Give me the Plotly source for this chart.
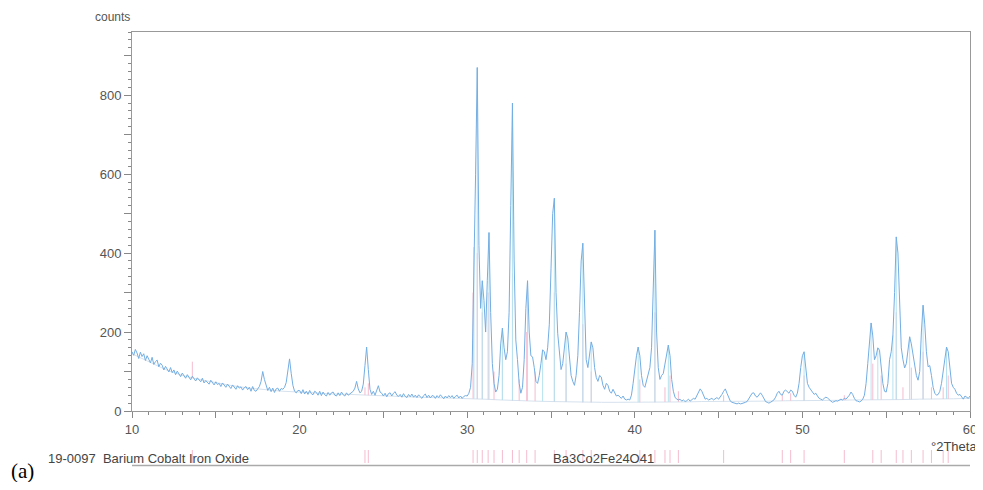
import numpy as np
import plotly.graph_objects as go

# ---------------- data ----------------
theta_start = 10.0
theta_step = 0.1
counts = [
    150,141,156,147,133,149,138,145,128,140,
    131,122,136,118,125,129,112,121,116,104,
    113,106,99,110,97,104,92,101,95,87,
    96,90,83,92,85,79,88,82,76,84,
    80,74,83,71,77,73,68,78,70,66,
    74,67,70,62,71,64,60,68,63,57,
    66,60,55,64,58,61,53,59,62,54,
    60,50,62,52,50,56,62,75,100,80,
    64,52,60,49,58,47,56,58,50,57,
    55,60,72,100,132,95,65,50,46,52,
    52,44,54,43,50,42,52,44,41,50,
    47,40,50,39,48,41,38,47,40,46,
    48,40,38,46,39,48,41,38,46,40,
    44,47,50,58,75,56,46,50,68,115,
    162,105,55,42,50,40,54,64,48,45,
    38,45,36,44,46,38,45,49,40,37,
    42,35,44,37,34,42,36,43,35,40,
    34,41,36,32,39,43,34,40,33,39,
    38,32,39,34,41,35,31,38,33,39,
    34,39,32,37,40,33,38,32,37,39,
    38,45,60,120,415,600,870,420,260,330,
    280,200,330,452,250,120,70,48,55,90,
    170,210,160,130,150,250,520,780,380,180,
    130,70,45,60,130,260,330,200,140,137,
    110,75,70,90,120,155,150,130,160,220,
    360,500,539,300,197,150,105,120,170,200,
    185,130,90,75,65,90,140,250,380,425,
    250,130,110,150,175,160,110,85,75,90,
    86,65,55,70,65,50,45,55,45,38,
    40,35,32,38,30,28,30,28,40,70,
    110,140,162,140,90,65,60,75,90,110,
    160,350,458,200,110,80,90,95,120,150,
    167,140,80,50,35,30,28,30,25,28,
    24,26,30,25,28,32,30,38,48,56,
    50,38,30,32,28,30,32,28,30,34,
    30,35,42,50,56,45,35,25,22,20,
    19,18,20,18,19,20,22,24,30,38,
    45,46,38,35,42,46,40,30,24,22,
    20,22,24,28,35,45,50,42,40,50,
    53,48,45,53,50,40,35,45,70,110,
    140,150,110,70,60,55,48,42,45,38,
    32,30,28,32,35,33,28,25,22,24,
    26,25,28,30,28,32,30,35,40,48,
    42,32,26,25,23,25,30,40,70,120,
    180,223,190,130,140,160,154,110,70,50,
    48,70,130,150,192,300,441,400,250,160,
    130,109,120,160,188,170,140,110,90,78,
    100,200,268,220,150,112,115,90,60,45,
    40,42,50,70,100,140,162,150,100,70,
    60,55,45,40,42,35,30,38,35,32,
    38,
]
two_theta = [round(theta_start + i * theta_step, 1) for i in range(len(counts))]

# background line (counts at whole degrees 10..60)
bg_theta = list(range(10, 61))
bg_counts = [145,125,105,90,80,72,64,58,54,50,48,45,43,42,40,38,36,35,34,33,
             32,30,28,26,25,24,23,22,22,22,22,22,23,23,24,24,24,25,25,26,
             26,27,27,28,28,29,29,30,30,31,32]

# peak list (light blue sticks)
peak_theta = [30.4, 30.6, 30.9, 31.3, 32.1, 32.7, 33.6, 34.5, 35.2, 35.9, 36.9, 37.4,
              40.2, 41.2, 42.0, 50.1, 54.1, 54.5, 55.4, 55.6, 56.4, 57.2, 58.6]
peak_counts = [415, 870, 330, 452, 210, 780, 330, 155, 539, 200, 425, 175,
               162, 458, 167, 150, 223, 160, 192, 441, 188, 268, 162]

# reference pattern 19-0097 Ba3Co2Fe24O41 (pink sticks)
ref_theta = [13.6, 23.9, 24.1, 30.35, 30.6, 30.9, 31.25, 31.6, 32.1, 32.7, 33.1, 33.55,
             34.05, 35.2, 35.9, 36.9, 37.4, 40.3, 41.2, 41.8, 42.1, 42.6, 45.3, 48.8,
             49.3, 50.1, 52.5, 54.2, 54.7, 55.6, 56.0, 56.5, 57.2, 57.7, 58.4, 58.7]
ref_counts = [125, 60, 70, 300, 400, 250, 300, 100, 150, 350, 80, 200,
              100, 300, 120, 220, 100, 80, 250, 60, 90, 50, 40, 40,
              45, 90, 40, 120, 90, 250, 60, 110, 150, 60, 60, 90]

y_tick_vals = list(range(0, 1000, 100))
y_tick_text = ["0", "", "200", "", "400", "", "600", "", "800", ""]
x_tick_vals = list(range(10, 65, 5))
x_tick_text = ["10", "", "20", "", "30", "", "40", "", "50", "", "60"]

# ---------------- figure ----------------
# the page body has an 8px margin, so the figure is drawn 8px in from the corner
OFF = 8
W, H = 975, 474
L, T = 132 - OFF, 32 - OFF
R = W - (970 - OFF)
B = H - (411 - OFF)
plot_w = W - L - R
plot_h = H - T - B


def py(pixel_y):
    return ((H - B) - (pixel_y - OFF)) / plot_h


def pxf(pixel_x):
    return ((pixel_x - OFF) - L) / plot_w


bg_at = lambda t: float(np.interp(t, bg_theta, bg_counts))

fig = go.Figure()

# background
fig.add_trace(go.Scatter(x=bg_theta, y=bg_counts, mode="lines",
                         line=dict(color="#d6e2ee", width=1), hoverinfo="skip"))

# pink reference sticks in plot
sx, sy = [], []
for t, c in zip(ref_theta, ref_counts):
    sx += [t, t, None]
    sy += [bg_at(t), c, None]
fig.add_trace(go.Scatter(x=sx, y=sy, mode="lines",
                         line=dict(color="#f5bccf", width=1), hoverinfo="skip"))

# light-blue peak sticks
px_, py_ = [], []
for t, c in zip(peak_theta, peak_counts):
    px_ += [t, t, None]
    py_ += [bg_at(t), c, None]
fig.add_trace(go.Scatter(x=px_, y=py_, mode="lines",
                         line=dict(color="#b5e3f0", width=1), hoverinfo="skip"))

# measured curve
fig.add_trace(go.Scatter(x=two_theta, y=counts, mode="lines",
                         line=dict(color="#74aee3", width=1), hoverinfo="skip"))

axis_font = dict(family="Liberation Sans, Arial, sans-serif", size=13, color="#555555")

fig.update_xaxes(range=[10, 60], tickvals=x_tick_vals, ticktext=x_tick_text,
                 ticks="outside", ticklen=6, tickcolor="#888888", tickwidth=1,
                 minor=dict(dtick=1, ticks="outside", ticklen=3, tickcolor="#888888"),
                 showline=True, linecolor="#999999", linewidth=1, mirror=True,
                 showgrid=False, zeroline=False, tickfont=axis_font, automargin=False)
fig.update_yaxes(range=[0, 960], tickvals=y_tick_vals, ticktext=y_tick_text,
                 ticks="outside", ticklen=7, tickcolor="#888888", tickwidth=1,
                 minor=dict(dtick=20, ticks="outside", ticklen=3, tickcolor="#888888"),
                 showline=True, linecolor="#999999", linewidth=1, mirror=True,
                 showgrid=False, zeroline=False, tickfont=axis_font, automargin=False)

shapes = []
# reference bar ticks below the axis
for t in ref_theta:
    shapes.append(dict(type="line", xref="x", yref="paper", x0=t, x1=t,
                       y0=py(450), y1=py(463), line=dict(color="#f5bccf", width=1)))
shapes.append(dict(type="line", xref="x", yref="paper", x0=10, x1=60,
                   y0=py(465.5), y1=py(465.5), line=dict(color="#aaaaaa", width=1.5)))

label_font = dict(family="Liberation Sans, Arial, sans-serif", size=13, color="#444444")
annotations = [
    dict(text="counts", xref="paper", yref="paper", x=pxf(132), y=py(17),
         xanchor="right", yanchor="middle", showarrow=False,
         font=dict(family="Liberation Sans, Arial, sans-serif", size=12, color="#555555")),
    dict(text="°2Theta", xref="paper", yref="paper", x=pxf(979), y=py(446),
         xanchor="right", yanchor="middle", showarrow=False, font=label_font),
    dict(text="19-0097  Barium Cobalt Iron Oxide", xref="paper", yref="paper",
         x=pxf(46), y=py(458), xanchor="left", yanchor="middle",
         showarrow=False, font=label_font),
    dict(text="Ba3Co2Fe24O41", xref="paper", yref="paper",
         x=pxf(551), y=py(458), xanchor="left", yanchor="middle",
         showarrow=False, font=label_font),
    dict(text="(a)", xref="paper", yref="paper", x=pxf(9), y=py(471),
         xanchor="left", yanchor="middle", showarrow=False,
         font=dict(family="Liberation Serif, Times New Roman, serif", size=21, color="#000000")),
]

fig.update_layout(width=W, height=H, margin=dict(l=L, r=R, t=T, b=B, autoexpand=False),
                  paper_bgcolor="white", plot_bgcolor="white", showlegend=False,
                  shapes=shapes, annotations=annotations)

fig.write_html("out.html")
